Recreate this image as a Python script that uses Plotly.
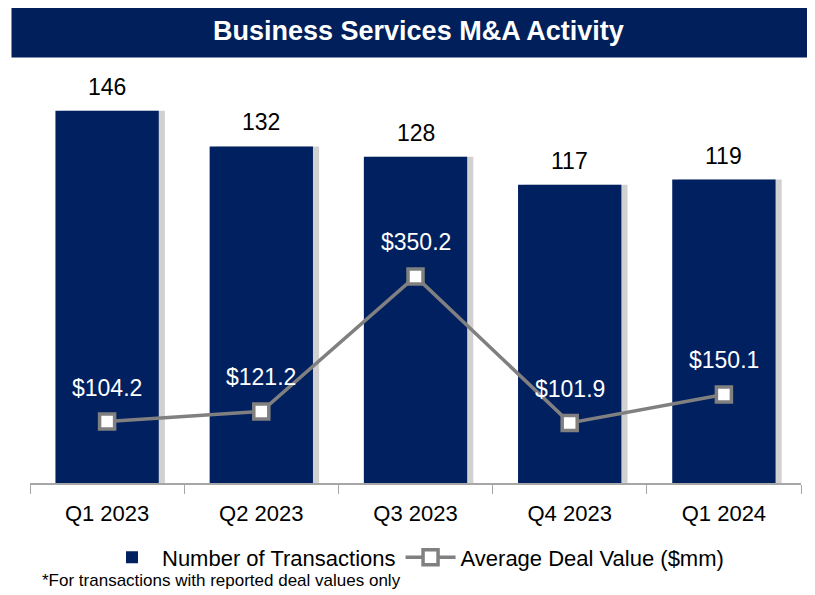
import plotly.graph_objects as go

quarters = ["Q1 2023", "Q2 2023", "Q3 2023", "Q4 2023", "Q1 2024"]
transactions = [146, 132, 128, 117, 119]
avg_deal_value = [104.2, 121.2, 350.2, 101.9, 150.1]

NAVY = "#002060"
GREY = "#808080"
FONT = "Arial, Liberation Sans, sans-serif"

fig = go.Figure()

# soft shadow on the right side of each bar
fig.add_trace(
    go.Bar(
        x=quarters,
        y=transactions,
        width=0.67,
        offset=-0.335 + 0.04,
        marker_color="rgba(0,0,0,0.18)",
        marker_line_width=0,
        showlegend=False,
        hoverinfo="skip",
    )
)

fig.add_trace(
    go.Bar(
        x=quarters,
        y=transactions,
        name="Number of Transactions",
        width=0.67,
        offset=-0.335,
        marker_color=NAVY,
        marker_line_width=0,
    )
)

fig.add_trace(
    go.Scatter(
        x=quarters,
        y=avg_deal_value,
        name="Average Deal Value ($mm)",
        yaxis="y2",
        mode="lines+markers",
        line=dict(color=GREY, width=3.5),
        marker=dict(
            symbol="square",
            size=15,
            color="white",
            line=dict(color=GREY, width=3.5),
        ),
        cliponaxis=False,
    )
)

# value labels
for q, n in zip(quarters, transactions):
    fig.add_annotation(
        x=q, y=n, yref="y", text=str(n), showarrow=False,
        yshift=24, font=dict(size=23, color="black", family=FONT),
    )
for q, v in zip(quarters, avg_deal_value):
    fig.add_annotation(
        x=q, y=v, yref="y2", text=f"${v:.1f}", showarrow=False,
        yshift=34, font=dict(size=23, color="white", family=FONT),
    )

# page body adds an 8px margin, so the figure is 8px smaller
fig.update_layout(
    width=807,
    height=587,
    barmode="overlay",
    paper_bgcolor="white",
    plot_bgcolor="white",
    font=dict(family=FONT, color="black"),
    margin=dict(l=22, r=14, t=62, b=112),
    xaxis=dict(
        showline=True,
        linecolor="#a6a6a6",
        linewidth=1.5,
        ticks="outside",
        tickson="boundaries",
        ticklen=9,
        tickcolor="#a6a6a6",
        tickfont=dict(size=22, color="black"),
        ticklabelstandoff=10,
        showgrid=False,
    ),
    yaxis=dict(range=[0, 162], visible=False, showgrid=False),
    yaxis2=dict(
        range=[0, 700], overlaying="y", side="right",
        visible=False, showgrid=False,
    ),
    legend=dict(
        orientation="h",
        x=0.5,
        xanchor="center",
        y=-0.18,
        yanchor="middle",
        itemwidth=50,
        font=dict(size=22, color="black"),
        traceorder="normal",
    ),
    showlegend=True,
)

# title banner
fig.add_shape(
    type="rect",
    xref="paper",
    yref="paper",
    x0=-0.024,
    x1=1.02,
    y0=1.03,
    y1=1.158,
    fillcolor="#001F5B",
    line_width=0,
    layer="above",
)
fig.add_annotation(
    text="<b>Business Services M&A Activity</b>",
    xref="paper",
    yref="paper",
    x=0.504,
    y=1.094,
    yanchor="middle",
    showarrow=False,
    font=dict(size=27, color="white", family=FONT),
)

fig.add_annotation(
    text="*For transactions with reported deal values only",
    xref="paper",
    yref="paper",
    x=0.013,
    y=-0.237,
    xanchor="left",
    yanchor="middle",
    showarrow=False,
    font=dict(size=17, color="black", family=FONT),
)

fig.write_html("out.html")
